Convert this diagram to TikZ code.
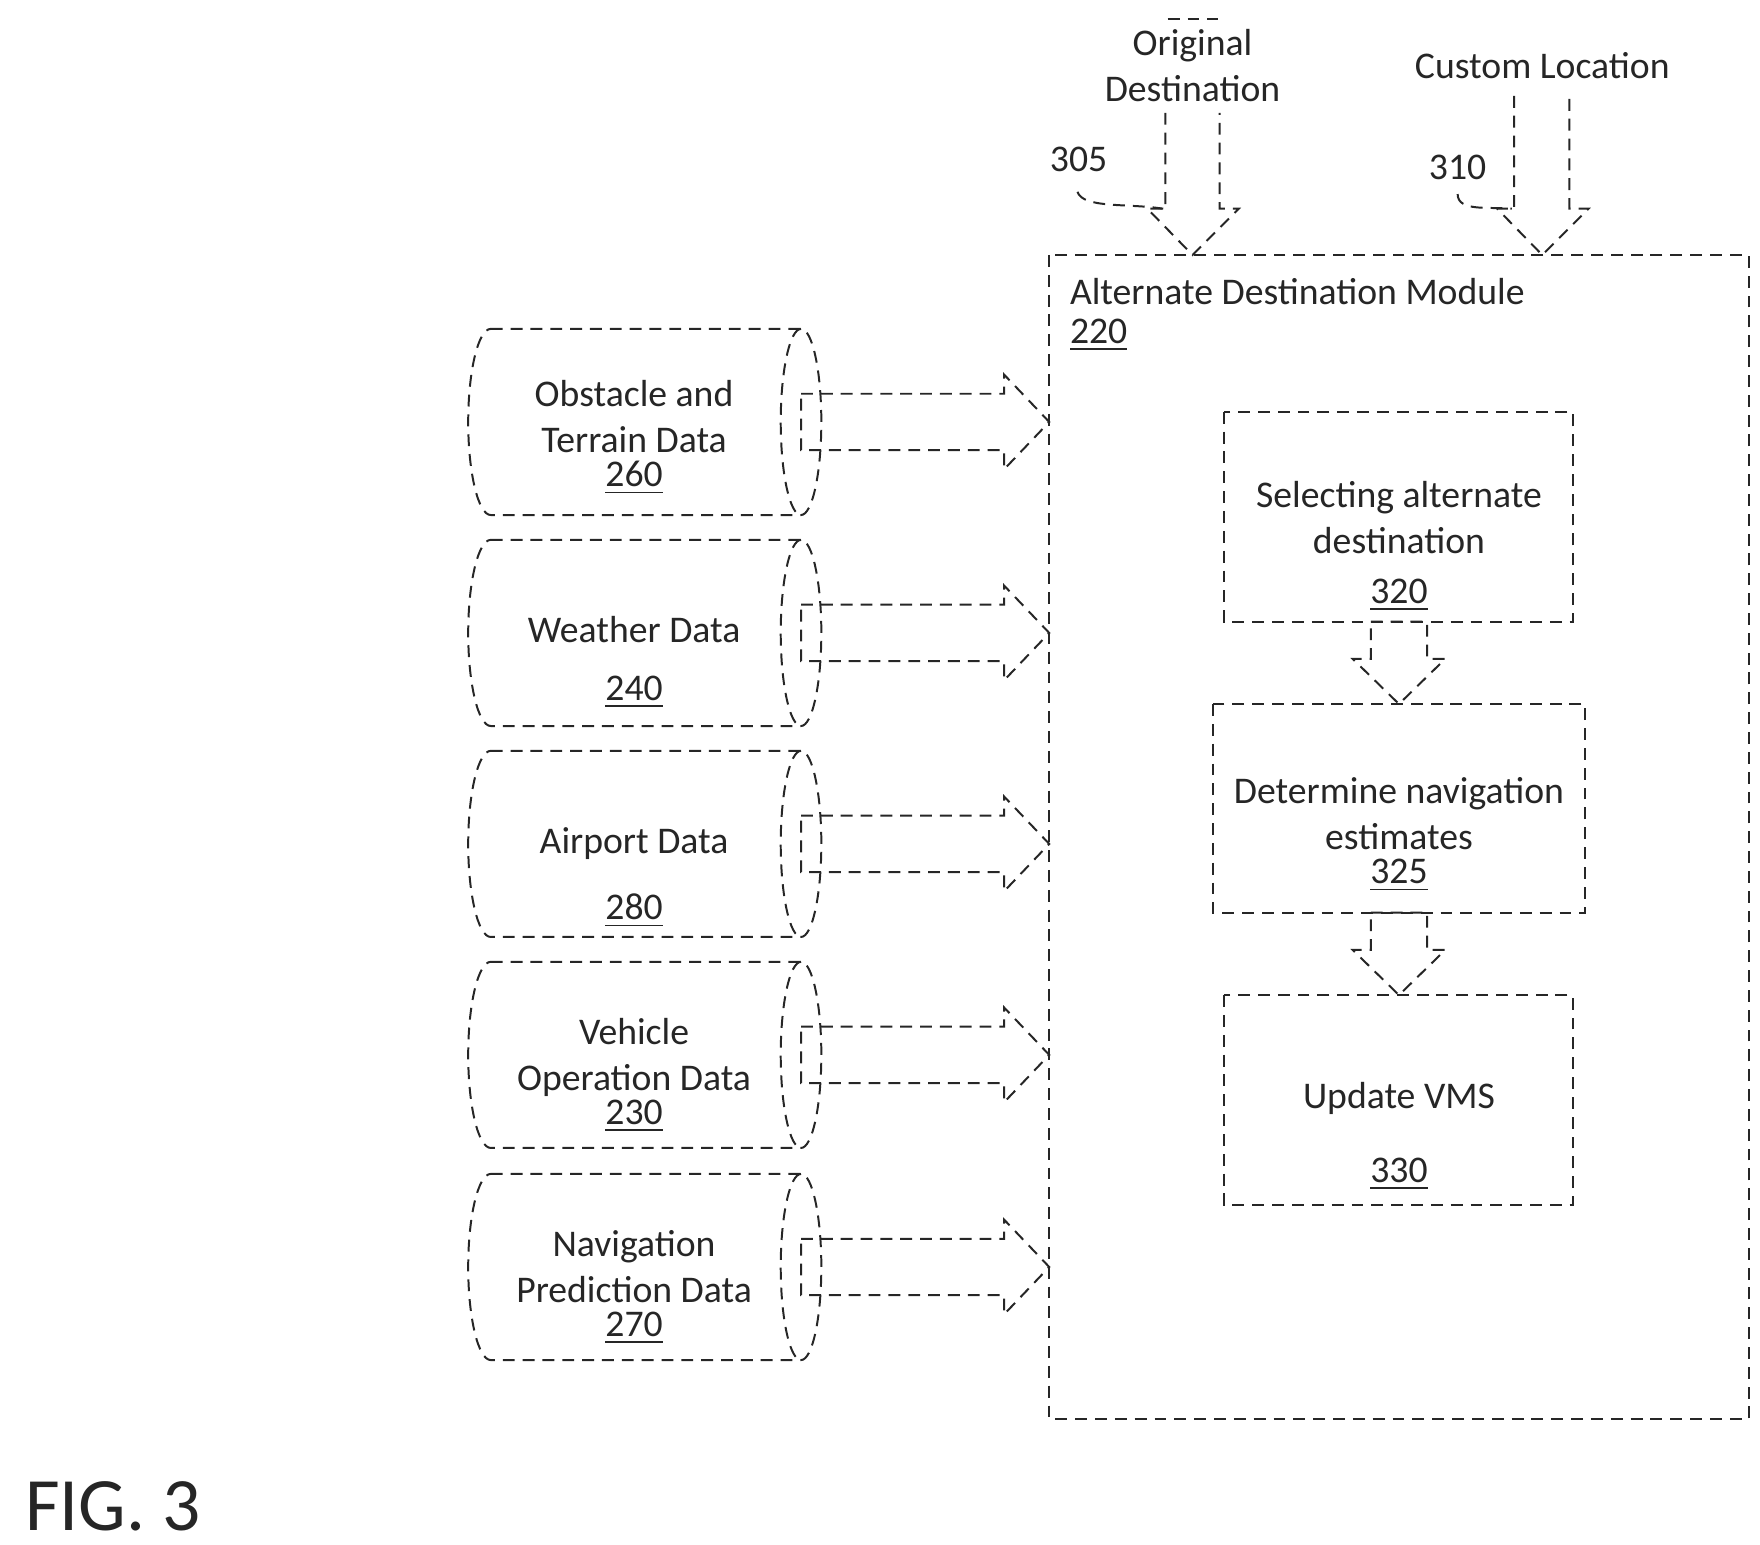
\documentclass[tikz,border=0pt]{standalone}
\usepackage{fontspec}
\setmainfont{Carlito}
\usetikzlibrary{calc}
\begin{document}
\begin{tikzpicture}[x=0.01cm,y=-0.01cm,
  ln/.style={line width=0.5pt,densely dashed,black!85},
  txt/.style={font=\fontsize{9.5}{11.6}\selectfont,align=center,text=black!85}]
\useasboundingbox (0,0) rectangle (1560,1369);
% big module box
\draw[ln] (930,226) rectangle (1550,1258);
\node[txt,anchor=west] (title) at (936,258) {Alternate Destination Module};
\node[txt,anchor=west] (n220) at (936,297) {\underline{220}};
% drums
\newcommand\drum[4]{%
  \draw[ln] (435,#1-82.5) -- (710,#1-82.5)
     arc[start angle=-90,end angle=90,x radius=18,y radius=82.5]
     -- (435,#1+82.5)
     arc[start angle=90,end angle=270,x radius=20,y radius=82.5];
  \draw[ln] (710,#1-82.5) arc[start angle=-90,end angle=-270,x radius=18,y radius=82.5];
  \node[txt] (#2) at (562,#1+#4) {#3};
  \draw[ln] (710,#1-25) -- (890,#1-25) -- (890,#1-42) -- (930,#1) -- (890,#1+42) -- (890,#1+25) -- (710,#1+25) -- cycle;
}
\drum{374}{d260}{Obstacle and\\Terrain Data\\[-3pt]\underline{260}}{14}
\drum{561}{d240}{Weather Data\\[3pt]\underline{240}}{26}
\drum{748}{d280}{Airport Data\\[5pt]\underline{280}}{30}
\drum{935}{d230}{Vehicle\\Operation Data\\[-3pt]\underline{230}}{18}
\drum{1123}{d270}{Navigation\\Prediction Data\\[-3pt]\underline{270}}{18}
% inner boxes
\draw[ln] (1085,365) rectangle (1394,551);
\node[txt] (s320) at (1240,484) {Selecting alternate\\destination\\[1pt]\underline{320}};
\draw[ln] (1075,624) rectangle (1405,809);
\node[txt] (s325) at (1240,740) {Determine navigation\\estimates\\[-3pt]\underline{325}};
\draw[ln] (1085,882) rectangle (1394,1068);
\node[txt] (s330) at (1240,1007) {Update VMS\\[7pt]\underline{330}};
% down arrows
\foreach \a/\b in {551/624,809/882}{
  \draw[ln] (1215,\a) -- (1265,\a) -- (1265,\b-40) -- (1281,\b-40) -- (1240,\b) -- (1199,\b-40) -- (1215,\b-40) -- cycle;}
% top arrows
\draw[ln] (1033,100) -- (1033,185) -- (1017,185) -- (1057,226) -- (1098,185) -- (1081,185) -- (1081,100);
\draw[ln] (1342,85) -- (1342,185) -- (1327,185) -- (1367,226) -- (1408,185) -- (1391,185) -- (1391,85);
\draw[ln] (1035,17) -- (1080,17);
\node[txt] (orig) at (1057,58) {Original\\Destination};
\node[txt] (cust) at (1367,58) {Custom Location};
\node[txt] (n305) at (956,141) {305};
\node[txt] (n310) at (1292,148) {310};
\draw[ln] (955,170) .. controls (960,185) and (1000,180) .. (1031,185);
\draw[ln] (1292,172) .. controls (1292,188) and (1320,183) .. (1340,185);
\node[font=\fontsize{19}{22}\selectfont,anchor=west,text=black!85] (fig) at (10,1335) {FIG. 3};
\end{tikzpicture}
\end{document}
